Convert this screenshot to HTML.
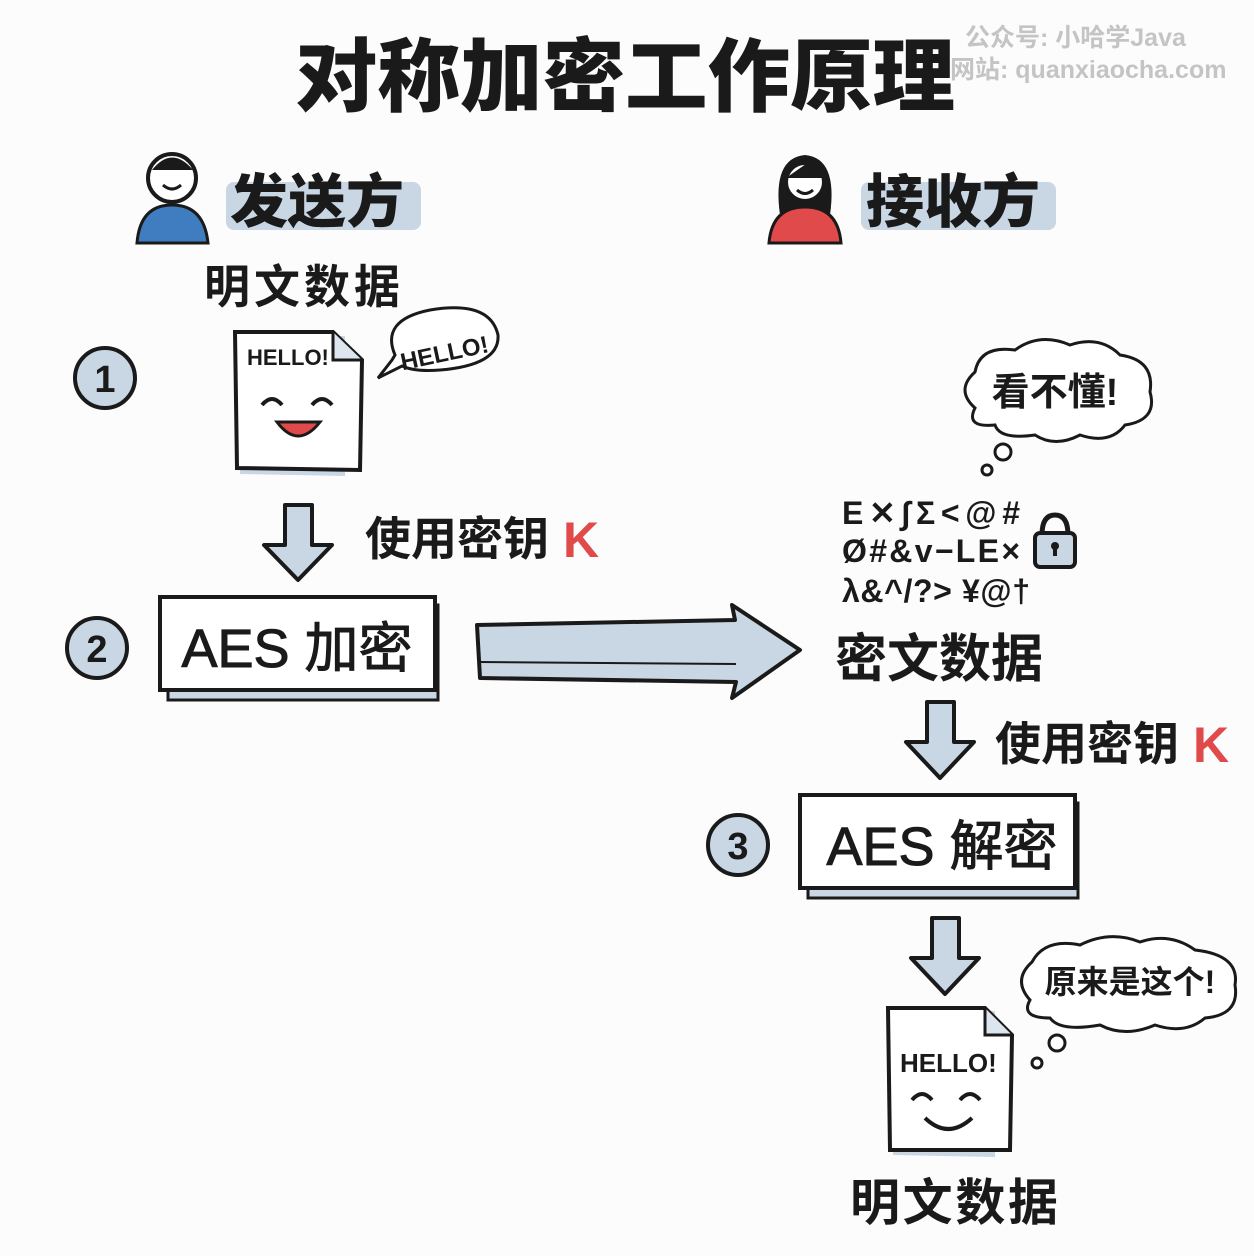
<!DOCTYPE html>
<html><head><meta charset="utf-8"><style>
html,body{margin:0;padding:0;background:#fdfdfd;}
svg{display:block;}
text{font-family:"Liberation Sans","Noto Sans CJK SC",sans-serif;}
</style></head><body>
<svg width="1254" height="1256" viewBox="0 0 1254 1256" xmlns="http://www.w3.org/2000/svg">
<rect width="1254" height="1256" fill="#fcfcfc"/>
<!-- title -->
<text x="625" y="105" font-size="80" font-weight="900" text-anchor="middle" fill="#1a1a1a" textLength="660" lengthAdjust="spacingAndGlyphs">对称加密工作原理</text>
<text x="965" y="46" font-size="25" fill="#c4c4c4" font-weight="bold">公众号: 小哈学Java</text>
<text x="950" y="78" font-size="25" fill="#c4c4c4" font-weight="bold">网站: quanxiaocha.com</text>

<!-- sender -->
<circle cx="172" cy="178" r="24" fill="#fff" stroke="#1a1a1a" stroke-width="4"/>
<path d="M152 170 Q172 145 193 170" fill="#1a1a1a"/>
<path d="M163 185 Q172 193 181 185" fill="none" stroke="#1a1a1a" stroke-width="3"/>
<path d="M137 243 Q140 205 172 205 Q204 205 208 243 Z" fill="#3f7cc0" stroke="#1a1a1a" stroke-width="3"/>
<rect x="226" y="182" width="195" height="48" rx="8" fill="#c9d6e3"/>
<text x="230" y="222" font-size="58" font-weight="900" fill="#1a1a1a">发送方</text>

<!-- receiver -->
<path d="M780 215 Q772 158 805 155 Q838 158 830 215 Z" fill="#1a1a1a"/>
<circle cx="805" cy="182" r="19" fill="#fff" stroke="#1a1a1a" stroke-width="4"/>
<path d="M786 178 Q800 168 812 160 Q822 170 824 178" fill="#1a1a1a"/>
<path d="M797 190 Q805 197 813 190" fill="none" stroke="#1a1a1a" stroke-width="3"/>
<path d="M769 243 Q772 207 805 207 Q838 207 841 243 Z" fill="#e04a4a" stroke="#1a1a1a" stroke-width="3"/>
<rect x="861" y="182" width="195" height="48" rx="8" fill="#c9d6e3"/>
<text x="866" y="222" font-size="58" font-weight="900" fill="#1a1a1a">接收方</text>

<text x="204" y="303" font-size="46" font-weight="bold" fill="#1a1a1a" textLength="196">明文数据</text>

<!-- circles -->
<g font-size="38" font-weight="bold" text-anchor="middle" fill="#1a1a1a">
<circle cx="105" cy="378" r="30" fill="#c9d6e3" stroke="#1a1a1a" stroke-width="4"/><text x="105" y="392">1</text>
<circle cx="97" cy="648" r="30" fill="#c9d6e3" stroke="#1a1a1a" stroke-width="4"/><text x="97" y="662">2</text>
<circle cx="738" cy="845" r="30" fill="#c9d6e3" stroke="#1a1a1a" stroke-width="4"/><text x="738" y="859">3</text>
</g>

<!-- doc 1 -->
<path d="M240 338 L345 336 L345 476 L240 474 Z" fill="#c9d6e3"/>
<path d="M235 332 L333 332 L362 360 L360 470 L237 468 Z" fill="#fff" stroke="#1a1a1a" stroke-width="4"/>
<path d="M333 332 L333 360 L362 360" fill="#dde5ee" stroke="#1a1a1a" stroke-width="3"/>
<text x="247" y="365" font-size="22" font-weight="bold" fill="#1a1a1a">HELLO!</text>
<path d="M262 405 Q272 393 282 405 M312 405 Q322 393 332 405" fill="none" stroke="#1a1a1a" stroke-width="4"/>
<path d="M277 422 Q298 450 320 422 Z" fill="#e04a4a" stroke="#1a1a1a" stroke-width="3"/>
<!-- speech bubble -->
<path d="M395 355 Q380 320 430 310 Q490 300 498 335 Q500 365 440 370 Q415 372 402 366 L378 378 L392 360 Z" fill="#fff" stroke="#1a1a1a" stroke-width="3"/>
<text x="398" y="362" font-size="24" font-weight="bold" fill="#1a1a1a" transform="rotate(-12 440 345)">HELLO!</text>

<!-- down arrow 1 -->
<path d="M285 505 L312 505 L312 545 L332 545 L298 580 L264 545 L285 545 Z" fill="#c9d6e3" stroke="#1a1a1a" stroke-width="4" stroke-linejoin="round"/>
<text x="365" y="555" font-size="46" font-weight="bold" fill="#1a1a1a">使用密钥</text>
<text x="563" y="557" font-size="50" font-weight="bold" fill="#e04a4a">K</text>

<!-- AES box 1 -->
<rect x="168" y="605" width="270" height="95" fill="#c9d6e3" stroke="#1a1a1a" stroke-width="3"/>
<rect x="160" y="597" width="275" height="93" fill="#fff" stroke="#1a1a1a" stroke-width="4"/>
<text x="297" y="667" font-size="54" text-anchor="middle" fill="#1a1a1a" stroke="#1a1a1a" stroke-width="1">AES 加密</text>

<!-- big arrow -->
<path d="M477 625 L735 620 L732 605 L800 650 L732 698 L736 682 L480 678 Z" fill="#c9d6e3" stroke="#1a1a1a" stroke-width="4" stroke-linejoin="round"/>
<path d="M480 662 L736 664" stroke="#1a1a1a" stroke-width="2"/>

<!-- cloud 1 -->
<path d="M975 408 Q955 390 975 372 Q980 345 1015 350 Q1040 332 1070 345 Q1100 335 1120 355 Q1155 360 1150 392 Q1158 420 1125 425 Q1110 445 1080 435 Q1055 448 1035 435 Q1000 440 995 425 Q965 428 975 408 Z" fill="#fff" stroke="#1a1a1a" stroke-width="3"/>
<text x="1055" y="405" font-size="38" font-weight="bold" text-anchor="middle" fill="#1a1a1a">看不懂!</text>
<circle cx="1003" cy="452" r="8" fill="#fff" stroke="#1a1a1a" stroke-width="3"/>
<circle cx="987" cy="470" r="5" fill="#fff" stroke="#1a1a1a" stroke-width="3"/>

<!-- garbled -->
<g font-size="32" font-weight="bold" fill="#1a1a1a">
<text x="842" y="524" textLength="178">E✕∫Σ&lt;@#</text>
<text x="842" y="562" textLength="178">Ø#&amp;v−LE×</text>
<text x="842" y="602" textLength="188">λ&amp;^/?&gt; ¥@†</text>
</g>
<path d="M1042 535 Q1042 515 1055 515 Q1068 515 1068 535" fill="none" stroke="#1a1a1a" stroke-width="5"/>
<rect x="1035" y="533" width="40" height="34" rx="5" fill="#c9d6e3" stroke="#1a1a1a" stroke-width="4"/>
<circle cx="1055" cy="546" r="4" fill="#1a1a1a"/><rect x="1053" y="546" width="4" height="10" fill="#1a1a1a"/>

<text x="835" y="677" font-size="52" font-weight="bold" fill="#1a1a1a">密文数据</text>

<!-- down arrow 2 -->
<path d="M927 702 L954 702 L954 742 L974 742 L940 778 L906 742 L927 742 Z" fill="#c9d6e3" stroke="#1a1a1a" stroke-width="4" stroke-linejoin="round"/>
<text x="995" y="760" font-size="46" font-weight="bold" fill="#1a1a1a">使用密钥</text>
<text x="1193" y="762" font-size="50" font-weight="bold" fill="#e04a4a">K</text>

<!-- AES box 2 -->
<rect x="808" y="803" width="270" height="95" fill="#c9d6e3" stroke="#1a1a1a" stroke-width="3"/>
<rect x="800" y="795" width="275" height="93" fill="#fff" stroke="#1a1a1a" stroke-width="4"/>
<text x="942" y="865" font-size="54" text-anchor="middle" fill="#1a1a1a" stroke="#1a1a1a" stroke-width="1">AES 解密</text>

<!-- down arrow 3 -->
<path d="M932 918 L959 918 L959 958 L979 958 L945 994 L911 958 L932 958 Z" fill="#c9d6e3" stroke="#1a1a1a" stroke-width="4" stroke-linejoin="round"/>

<!-- cloud 2 -->
<path d="M1030 1000 Q1012 980 1032 962 Q1045 938 1080 945 Q1110 930 1140 942 Q1170 932 1195 950 Q1240 955 1235 985 Q1240 1015 1205 1018 Q1185 1035 1155 1025 Q1125 1038 1100 1025 Q1060 1032 1050 1018 Q1020 1018 1030 1000 Z" fill="#fff" stroke="#1a1a1a" stroke-width="3"/>
<text x="1130" y="993" font-size="32" font-weight="bold" text-anchor="middle" fill="#1a1a1a">原来是这个!</text>
<circle cx="1057" cy="1043" r="8" fill="#fff" stroke="#1a1a1a" stroke-width="3"/>
<circle cx="1037" cy="1063" r="5" fill="#fff" stroke="#1a1a1a" stroke-width="3"/>

<!-- doc 2 -->
<path d="M893 1013 L995 1011 L995 1157 L893 1155 Z" fill="#c9d6e3"/>
<path d="M888 1008 L985 1008 L1012 1035 L1010 1150 L890 1150 Z" fill="#fff" stroke="#1a1a1a" stroke-width="4"/>
<path d="M985 1008 L985 1035 L1012 1035" fill="#dde5ee" stroke="#1a1a1a" stroke-width="3"/>
<text x="900" y="1072" font-size="26" font-weight="bold" fill="#1a1a1a">HELLO!</text>
<path d="M912 1100 Q922 1088 932 1100 M960 1100 Q970 1088 980 1100" fill="none" stroke="#1a1a1a" stroke-width="4"/>
<path d="M925 1118 Q948 1140 972 1118" fill="none" stroke="#1a1a1a" stroke-width="4"/>

<text x="850" y="1220" font-size="50" font-weight="bold" fill="#1a1a1a" textLength="208">明文数据</text>
</svg>
</body></html>
